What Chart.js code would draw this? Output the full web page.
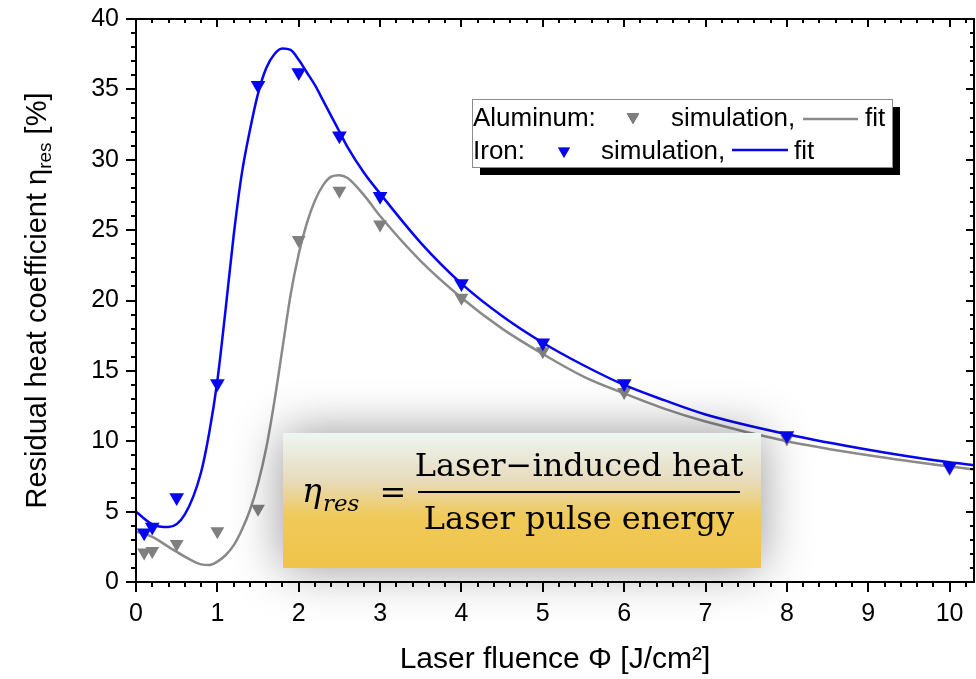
<!DOCTYPE html>
<html>
<head>
<meta charset="utf-8">
<script src="https://cdn.jsdelivr.net/npm/chart.js@4.4.0/dist/chart.umd.min.js"></script>
<style>
  html, body { margin: 0; padding: 0; background: #fff; }
  #wrap { width: 976px; height: 679px; }
</style>
</head>
<body>
<div id="wrap"><canvas id="chart" width="976" height="679"></canvas></div>
<script>
// Simulated residual heat coefficient (%) vs laser fluence (J/cm²)
const fluence = [0.1, 0.2, 0.5, 1, 1.5, 2, 2.5, 3, 4, 5, 6, 8, 10];
const ironSim = [3.5, 3.9, 6.0, 14.1, 35.3, 36.2, 31.7, 27.4, 21.2, 17.0, 14.1, 10.4, 8.2];
const aluminumSim = [2.1, 2.2, 2.7, 3.6, 5.2, 24.3, 27.8, 25.4, 20.2, 16.4, 13.5, 10.2, 8.1];

// Fit curves, sampled along fluence
const fitFluence = [0, 0.2, 0.4, 0.6, 0.8, 0.9, 1.0, 1.1, 1.2, 1.3, 1.4, 1.5, 1.6, 1.7, 1.8, 1.9, 2.0,
  2.1, 2.2, 2.3, 2.4, 2.5, 2.6, 2.8, 3.0, 3.5, 4, 4.5, 5, 5.5, 6, 6.5, 7, 8, 9, 10, 10.3];
const ironFit = [5.0, 4.1, 3.9, 4.8, 7.8, 10.6, 14.3, 19.3, 24.6, 29.0, 32.1, 34.7, 36.5, 37.5, 37.9, 37.8, 37.1,
  36.2, 35.3, 34.2, 33.1, 32.0, 30.9, 29.1, 27.6, 24.1, 21.2, 18.9, 17.0, 15.4, 14.0, 12.9, 11.9, 10.5, 9.4, 8.5, 8.3];
const aluminumFit = [3.6, 3.2, 2.5, 1.8, 1.25, 1.2, 1.45, 1.9, 2.6, 3.7, 5.1, 7.0, 9.5, 12.8, 16.6, 20.4, 23.3,
  25.5, 27.1, 28.2, 28.8, 28.9, 28.7, 27.5, 26.0, 22.8, 20.2, 18.0, 16.2, 14.6, 13.4, 12.3, 11.4, 10.0, 9.0, 8.2, 8.0];

const xTicks = [0, 1, 2, 3, 4, 5, 6, 7, 8, 9, 10];
const yTicks = [0, 5, 10, 15, 20, 25, 30, 35, 40];
const xMinorStep = 0.2;
const yMinorStep = 1;

const BLUE = '#0505f0';
const GRAY = '#8a8a8a';
const GRAY_MARK = '#7f7f7f';
const SANS = '"Liberation Sans", Arial, sans-serif';
const SERIF = '"DejaVu Serif", serif';

const toXY = (xs, ys) => xs.map((x, i) => ({ x, y: ys[i] }));

function downTriangle(ctx, x, y, r, color) {
  Chart.helpers.drawPoint(ctx, { pointStyle: 'triangle', rotation: 180, radius: r, borderWidth: 0 }, x, y);
  ctx.fillStyle = color;
  ctx.fill();
}

// Boxed frame with inner/outer ticks like an Origin plot
const frameTicks = {
  id: 'frameTicks',
  afterDatasetsDraw(chart) {
    const { ctx, chartArea: a, scales: { x, y } } = chart;
    ctx.save();
    ctx.strokeStyle = '#000';
    ctx.lineWidth = 2;
    ctx.strokeRect(a.left, a.top, a.right - a.left, a.bottom - a.top);
    ctx.beginPath();
    for (let v = 0; v <= x.max + 1e-9; v += xMinorStep) {
      const major = Math.abs(v - Math.round(v)) < 1e-6;
      const px = Math.round(x.getPixelForValue(v));
      ctx.moveTo(px, a.bottom); ctx.lineTo(px, a.bottom + (major ? 10 : 5));
      ctx.moveTo(px, a.top); ctx.lineTo(px, a.top + (major ? 8 : 4));
    }
    for (let v = 0; v <= y.max + 1e-9; v += yMinorStep) {
      const major = v % 5 === 0;
      const py = Math.round(y.getPixelForValue(v));
      ctx.moveTo(a.left, py); ctx.lineTo(a.left - (major ? 10 : 5), py);
      ctx.moveTo(a.right, py); ctx.lineTo(a.right - (major ? 8 : 4), py);
    }
    ctx.stroke();
    ctx.restore();
  }
};

// Y title with subscript, legend box and formula panel
const overlays = {
  id: 'overlays',
  afterDraw(chart) {
    const { ctx, chartArea: a } = chart;
    ctx.save();

    // y-axis title
    ctx.save();
    ctx.translate(38, (a.top + a.bottom) / 2);
    ctx.rotate(-Math.PI / 2);
    ctx.fillStyle = '#000';
    ctx.textBaseline = 'middle';
    const bigF = '29px ' + SANS, smallF = '19px ' + SANS;
    const p1 = 'Residual heat coefficient \u03b7', p2 = 'res', p3 = ' [%]';
    ctx.font = bigF; const w1 = ctx.measureText(p1).width, w3 = ctx.measureText(p3).width;
    ctx.font = smallF; const w2 = ctx.measureText(p2).width;
    let tx = -(w1 + w2 + w3) / 2;
    ctx.font = bigF; ctx.fillText(p1, tx, 0); tx += w1;
    ctx.font = smallF; ctx.fillText(p2, tx, 8); tx += w2;
    ctx.font = bigF; ctx.fillText(p3, tx, 0);
    ctx.restore();

    // legend
    const lx = 472, ly = 99, lw = 420, lh = 68;
    ctx.fillStyle = '#000';
    ctx.fillRect(lx + 8, ly + 8, lw, lh);
    ctx.fillStyle = '#fff';
    ctx.fillRect(lx, ly, lw, lh);
    ctx.strokeStyle = '#8c8c8c';
    ctx.lineWidth = 1;
    ctx.strokeRect(lx + 0.5, ly + 0.5, lw, lh);
    ctx.font = '26px ' + SANS;
    ctx.fillStyle = '#000';
    ctx.textBaseline = 'alphabetic';
    ctx.fillText('Aluminum:', 473, 126);
    ctx.fillText('simulation,', 671, 126);
    ctx.fillText('fit', 865, 126);
    ctx.fillText('Iron:', 473, 159);
    ctx.fillText('simulation,', 601, 159);
    ctx.fillText('fit', 794, 159);
    downTriangle(ctx, 633, 117, 7, GRAY_MARK);
    downTriangle(ctx, 564, 151, 7, BLUE);
    ctx.lineWidth = 2.5;
    ctx.strokeStyle = GRAY;
    ctx.beginPath(); ctx.moveTo(803, 119); ctx.lineTo(858, 119); ctx.stroke();
    ctx.strokeStyle = BLUE;
    ctx.beginPath(); ctx.moveTo(732, 150); ctx.lineTo(788, 150); ctx.stroke();

    // formula panel with soft shadow
    const bx = 283, by = 433, bw = 478, bh = 135;
    ctx.save();
    ctx.shadowColor = 'rgba(0,0,0,0.42)';
    ctx.shadowBlur = 50;
    const g = ctx.createLinearGradient(0, by, 0, by + bh);
    g.addColorStop(0, '#eef6f3');
    g.addColorStop(0.35, '#e7dbbd');
    g.addColorStop(0.62, '#f0c958');
    g.addColorStop(1, '#f0c44b');
    ctx.fillStyle = g;
    ctx.fillRect(bx, by, bw, bh);
    ctx.restore();

    ctx.fillStyle = '#000';
    ctx.textBaseline = 'alphabetic';
    ctx.font = 'italic 33px ' + SERIF;
    ctx.fillText('\u03b7', 302, 502);
    ctx.font = 'italic 23px ' + SERIF;
    ctx.fillText('res', 323, 511);
    ctx.font = '32px ' + SERIF;
    ctx.textAlign = 'center';
    ctx.fillText('=', 393, 503);
    const cx = 579;
    ctx.fillText('Laser\u2212induced heat', cx, 476);
    ctx.fillText('Laser pulse energy', cx, 529);
    ctx.fillRect(418, 491, 322, 2);
    ctx.restore();
  }
};

new Chart(document.getElementById('chart'), {
  type: 'line',
  data: {
    datasets: [
      {
        label: 'Iron simulation',
        data: toXY(fluence, ironSim),
        showLine: false,
        pointStyle: 'triangle',
        rotation: 180,
        pointRadius: 8.5,
        pointBackgroundColor: BLUE,
        pointBorderWidth: 0,
        borderColor: BLUE
      },
      {
        label: 'Iron fit',
        data: toXY(fitFluence, ironFit),
        borderColor: BLUE,
        borderWidth: 2.5,
        pointRadius: 0,
        cubicInterpolationMode: 'monotone'
      },
      {
        label: 'Aluminum simulation',
        data: toXY(fluence, aluminumSim),
        showLine: false,
        pointStyle: 'triangle',
        rotation: 180,
        pointRadius: 8,
        pointBackgroundColor: GRAY_MARK,
        pointBorderWidth: 0,
        borderColor: GRAY_MARK
      },
      {
        label: 'Aluminum fit',
        data: toXY(fitFluence, aluminumFit),
        borderColor: GRAY,
        borderWidth: 2.5,
        pointRadius: 0,
        cubicInterpolationMode: 'monotone'
      }
    ]
  },
  options: {
    responsive: false,
    animation: false,
    events: [],
    layout: { autoPadding: false, padding: { top: 19, right: 2, left: 0, bottom: 0 } },
    plugins: { legend: { display: false }, tooltip: { enabled: false } },
    scales: {
      x: {
        type: 'linear',
        min: 0,
        max: 10.3,
        afterBuildTicks: s => { s.ticks = xTicks.map(v => ({ value: v })); },
        afterFit: s => { s.height = 97; s.paddingLeft = 0; s.paddingRight = 0; },
        grid: { display: false, drawTicks: false },
        border: { display: false },
        ticks: { color: '#000', font: { family: SANS, size: 25 }, padding: 17, maxRotation: 0 },
        title: {
          display: true,
          text: 'Laser fluence \u03a6 [J/cm\u00b2]',
          color: '#000',
          font: { family: SANS, size: 30 },
          padding: { top: 0, bottom: 1 }
        }
      },
      y: {
        min: 0,
        max: 40,
        afterBuildTicks: s => { s.ticks = yTicks.map(v => ({ value: v })); },
        afterFit: s => { s.width = 136; s.paddingTop = 0; s.paddingBottom = 0; },
        grid: { display: false, drawTicks: false },
        border: { display: false },
        ticks: { color: '#000', font: { family: SANS, size: 25 }, padding: 17 }
      }
    }
  },
  plugins: [frameTicks, overlays]
});
</script>
</body>
</html>
